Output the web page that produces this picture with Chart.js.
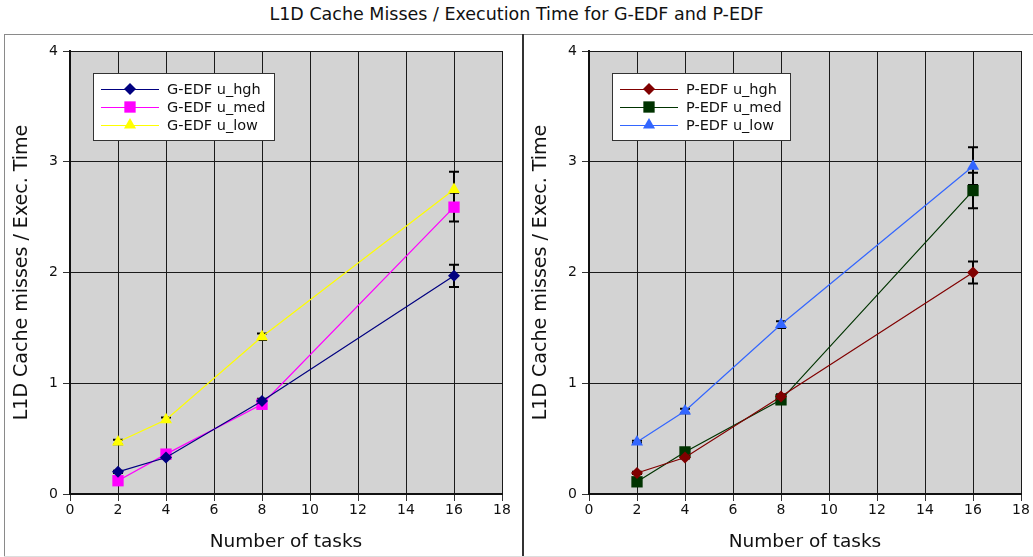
<!DOCTYPE html>
<html>
<head>
<meta charset="utf-8">
<script src="https://cdn.jsdelivr.net/npm/chart.js@4.4.0/dist/chart.umd.min.js"></script>
<style>
  html, body { margin: 0; padding: 0; background: #fff; }
  body { width: 1033px; height: 557px; position: relative; overflow: hidden; font-family: "DejaVu Sans", sans-serif; }
  #title { position: absolute; left: 0; width: 1033px; top: 4px; text-align: center; font-size: 17.5px; color: #111; }
  .panel { position: absolute; top: 35px; height: 522px; }
  #p1 { left: 5px; width: 518px; }
  #p2 { left: 524px; width: 509px; }
  #topline { position: absolute; left: 5px; top: 34px; width: 1028px; height: 1px; background: #8a8a8a; }
  #leftline { position: absolute; left: 4px; top: 34px; width: 1px; height: 523px; background: #8a8a8a; }
  #midline { position: absolute; left: 522px; top: 34px; width: 2px; height: 523px; background: #333; }
  #botline { position: absolute; left: 4px; top: 556px; width: 1029px; height: 1px; background: #ddd; }
</style>
</head>
<body>
<div id="title">L1D Cache Misses / Execution Time for G-EDF and P-EDF</div>
<div class="panel" id="p1"><canvas id="c1"></canvas></div>
<div class="panel" id="p2"><canvas id="c2"></canvas></div>
<div id="topline"></div><div id="leftline"></div><div id="midline"></div><div id="botline"></div>
<script>
// ---- data ----
const tasks = [2, 4, 8, 16];
const xTicks = [0, 2, 4, 6, 8, 10, 12, 14, 16, 18];
const yTicks = [0, 1, 2, 3, 4];

const gLabels = ['G-EDF u_hgh', 'G-EDF u_med', 'G-EDF u_low'];
const gHgh = [0.20, 0.33, 0.84, 1.97];
const gMed = [0.12, 0.36, 0.81, 2.59];
const gLow = [0.47, 0.67, 1.42, 2.75];
const gHghErr = [0.01, 0.01, 0.02, 0.10];
const gMedErr = [0.01, 0.01, 0.02, 0.13];
const gLowErr = [0.02, 0.02, 0.03, 0.16];

const pLabels = ['P-EDF u_hgh', 'P-EDF u_med', 'P-EDF u_low'];
const pHgh = [0.19, 0.33, 0.88, 2.00];
const pMed = [0.11, 0.38, 0.85, 2.74];
const pLow = [0.47, 0.75, 1.53, 2.96];
const pHghErr = [0.01, 0.01, 0.02, 0.10];
const pMedErr = [0.01, 0.02, 0.02, 0.16];
const pLowErr = [0.01, 0.02, 0.03, 0.17];

const gColors = ['#000080', '#ff00ff', '#ffff00'];
const pColors = ['#800000', '#003300', '#3366ff'];
const styles = ['rectRot', 'rect', 'triangle'];
const radii = [6, 8, 7];

function pts(vals) { return tasks.map((t, i) => ({ x: t, y: vals[i] })); }

function drawMarker(ctx, style, x, y, r, color) {
  ctx.save();
  ctx.fillStyle = color;
  ctx.beginPath();
  if (style === 'rectRot') {
    ctx.moveTo(x, y - r); ctx.lineTo(x + r, y); ctx.lineTo(x, y + r); ctx.lineTo(x - r, y);
  } else if (style === 'rect') {
    const s = r * Math.SQRT1_2;
    ctx.rect(x - s, y - s, 2 * s, 2 * s);
  } else {
    ctx.moveTo(x, y - r); ctx.lineTo(x + r * 0.866, y + r * 0.5); ctx.lineTo(x - r * 0.866, y + r * 0.5);
  }
  ctx.closePath();
  ctx.fill();
  ctx.restore();
}

const bgPlugin = {
  id: 'bg',
  beforeDraw(chart) {
    const a = chart.chartArea, ctx = chart.ctx;
    ctx.save(); ctx.fillStyle = '#d3d3d3';
    ctx.fillRect(a.left, a.top, a.right - a.left, a.bottom - a.top);
    ctx.restore();
  }
};

const errPlugin = {
  id: 'err',
  beforeDatasetsDraw(chart) {
    const ctx = chart.ctx, xs = chart.scales.x, ys = chart.scales.y;
    ctx.save();
    ctx.strokeStyle = '#000'; ctx.lineWidth = 2;
    chart.data.datasets.forEach(ds => {
      ds.data.forEach((p, i) => {
        const e = ds.errors[i];
        const px = xs.getPixelForValue(p.x);
        const y1 = ys.getPixelForValue(p.y + e), y2 = ys.getPixelForValue(p.y - e);
        ctx.beginPath();
        ctx.moveTo(px, y1); ctx.lineTo(px, y2);
        ctx.moveTo(px - 5, y1); ctx.lineTo(px + 5, y1);
        ctx.moveTo(px - 5, y2); ctx.lineTo(px + 5, y2);
        ctx.stroke();
      });
    });
    ctx.restore();
  },
  afterDraw(chart) {
    const ctx = chart.ctx, a = chart.chartArea;
    const lg = chart.options.plugins.boxLegend;
    const bx = a.left + lg.dx, by = a.top + 22, bw = lg.w, bh = 68;
    ctx.save();
    ctx.fillStyle = '#fff'; ctx.fillRect(bx, by, bw, bh);
    ctx.strokeStyle = '#333'; ctx.lineWidth = 1;
    ctx.strokeRect(bx + 0.5, by + 0.5, bw - 1, bh - 1);
    ctx.font = '14.5px "DejaVu Sans"';
    ctx.textBaseline = 'middle';
    chart.data.datasets.forEach((ds, i) => {
      const ry = by + 16 + i * 18;
      ctx.strokeStyle = ds.borderColor; ctx.lineWidth = 1;
      ctx.beginPath(); ctx.moveTo(bx + 8, ry + 0.5); ctx.lineTo(bx + 66, ry + 0.5); ctx.stroke();
      drawMarker(ctx, styles[i], bx + 37, ry, radii[i], ds.backgroundColor);
      ctx.fillStyle = '#111';
      ctx.fillText(ds.label, bx + 74, ry + 1);
    });
    ctx.restore();
  }
};

function makeChart(id, labels, series, errs, colors, rightPad, legendDx, legendW) {
  const datasets = series.map((s, i) => ({
    label: labels[i],
    data: pts(s),
    errors: errs[i],
    borderColor: colors[i],
    backgroundColor: colors[i],
    borderWidth: 1.2,
    pointStyle: styles[i],
    pointRadius: radii[i],
    pointBorderWidth: 0,
    pointHoverRadius: radii[i],
    tension: 0
  }));
  return new Chart(document.getElementById(id), {
    type: 'line',
    data: { datasets },
    plugins: [bgPlugin, errPlugin],
    options: {
      responsive: true,
      maintainAspectRatio: false,
      animation: false,
      events: [],
      layout: { padding: { top: 16, right: rightPad, left: 0, bottom: 0 } },
      plugins: {
        legend: { display: false },
        tooltip: { enabled: false },
        boxLegend: { dx: legendDx, w: legendW }
      },
      scales: {
        x: {
          type: 'linear', min: 0, max: 18,
          afterBuildTicks(s) { s.ticks = xTicks.map(v => ({ value: v })); },
          afterFit(s) { s.height = 63; },
          grid: { color: '#1a1a1a', lineWidth: 1, tickLength: 7, tickColor: '#333' },
          border: { color: '#111', width: 2 },
          ticks: { color: '#111', font: { family: 'DejaVu Sans', size: 14 }, padding: 1, maxRotation: 0 },
          title: { display: true, text: 'Number of tasks', color: '#111', font: { family: 'DejaVu Sans', size: 18.5 }, padding: { top: 3 } }
        },
        y: {
          type: 'linear', min: 0, max: 4,
          afterBuildTicks(s) { s.ticks = yTicks.map(v => ({ value: v })); },
          afterFit(s) { s.width = 65; },
          grid: { color: '#1a1a1a', lineWidth: 1, tickLength: 7, tickColor: '#333' },
          border: { color: '#111', width: 2 },
          ticks: { color: '#111', font: { family: 'DejaVu Sans', size: 14 }, padding: 5 },
          title: { display: true, text: 'L1D Cache misses / Exec. Time', color: '#111', font: { family: 'DejaVu Sans', size: 19 }, padding: { top: 6 } }
        }
      }
    }
  });
}

makeChart('c1', gLabels, [gHgh, gMed, gLow], [gHghErr, gMedErr, gLowErr], gColors, 21, 23, 182);
makeChart('c2', pLabels, [pHgh, pMed, pLow], [pHghErr, pMedErr, pLowErr], pColors, 12, 23, 179);
</script>
</body>
</html>
